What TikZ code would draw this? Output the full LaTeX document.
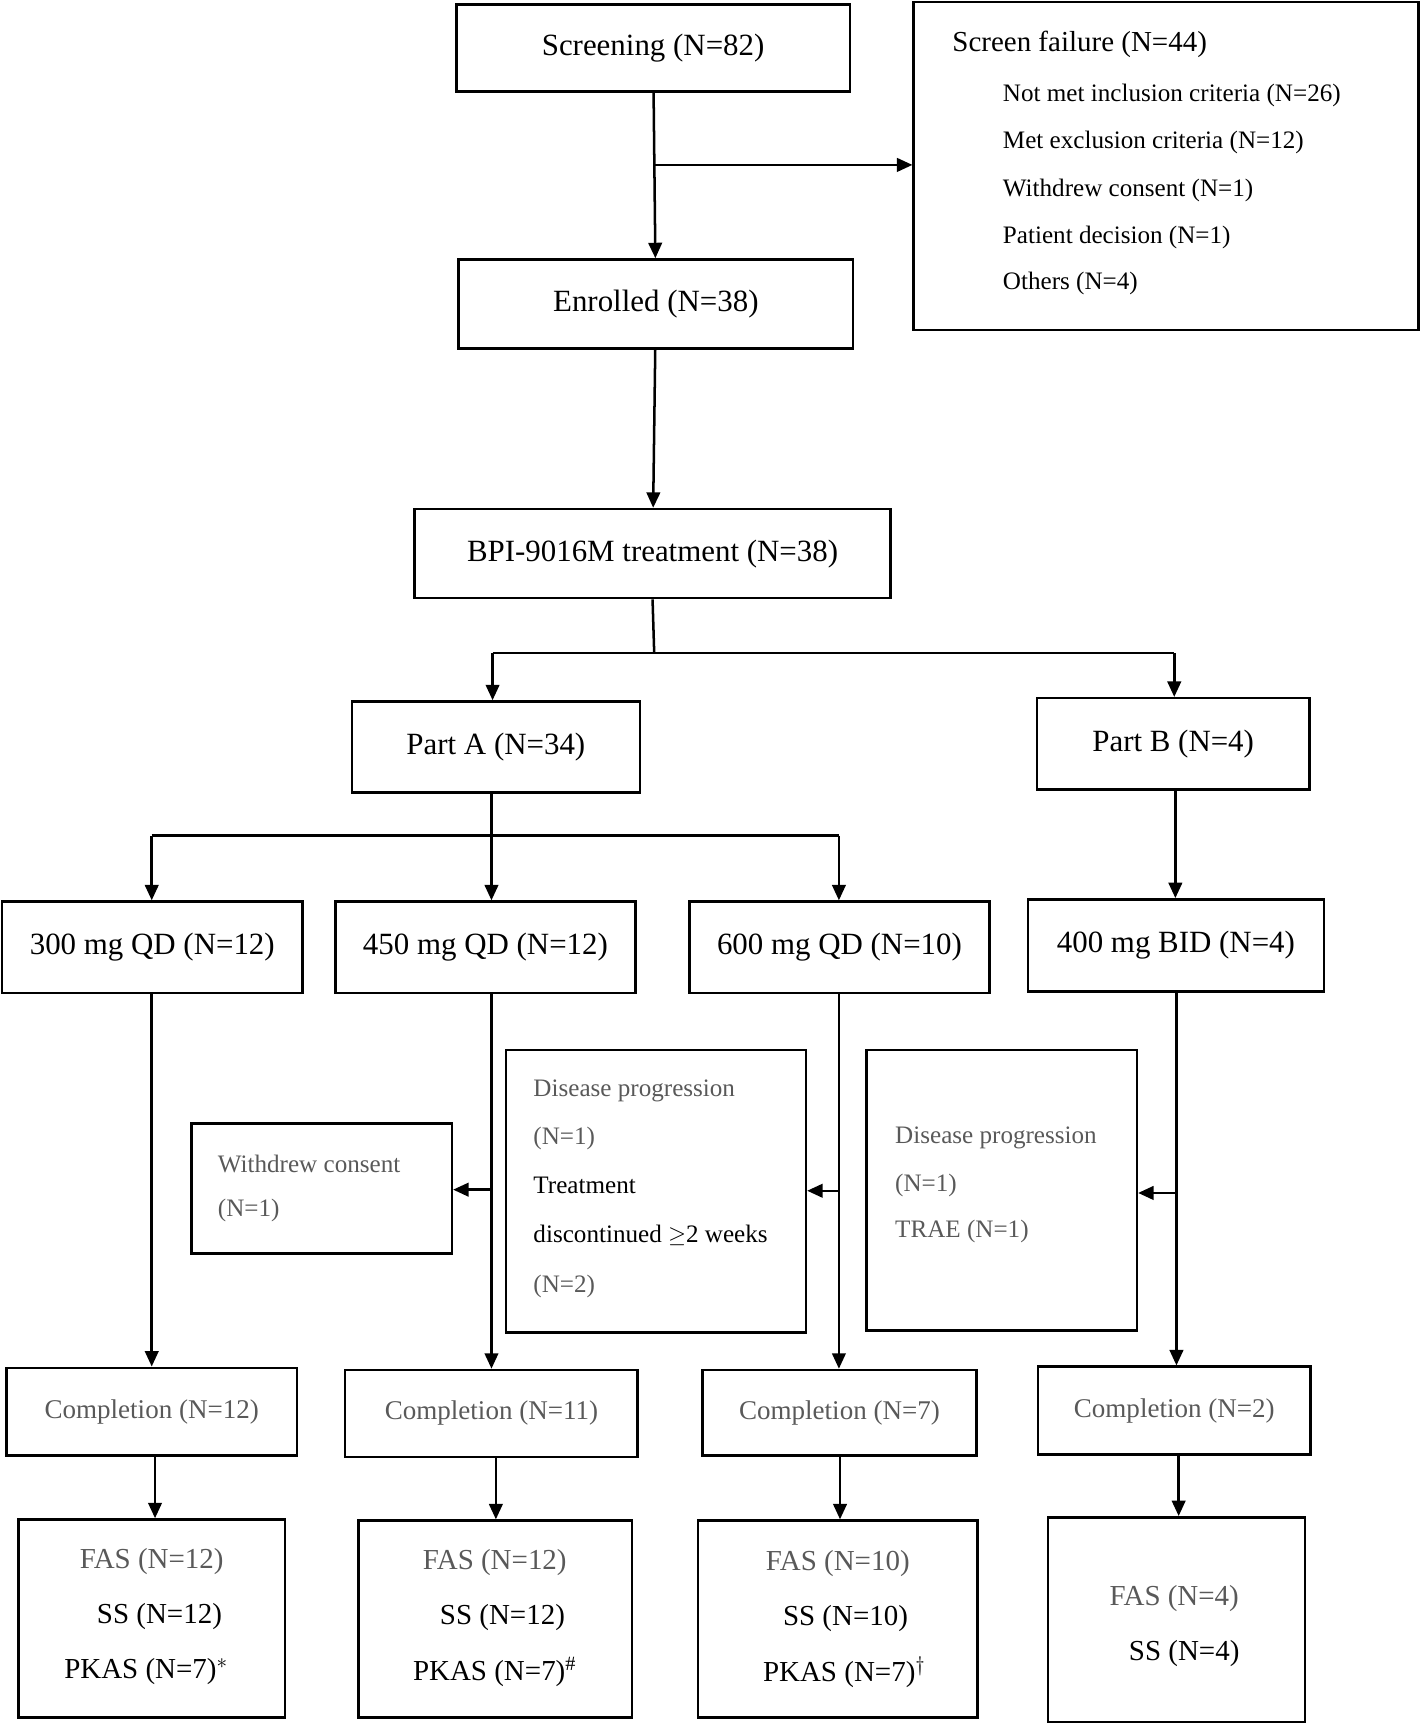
\documentclass[tikz,border=0pt]{standalone}
\usepackage{fontspec}
\setmainfont{Liberation Serif}
\usepackage{amssymb}
\usetikzlibrary{arrows.meta}
\definecolor{gt}{gray}{0.35}
\begin{document}
\begin{tikzpicture}[x=0.02cm,y=-0.02cm,
  box/.style={draw,line width=1.3pt,inner sep=0pt},
  arr/.style={-{Triangle[length=8pt,width=7pt]},line width=1.3pt},
  ln/.style={line width=1.3pt},
  big/.style={font=\fontsize{16}{18}\selectfont},
  mid/.style={font=\fontsize{14}{16}\selectfont},
  sm/.style={font=\fontsize{13}{15}\selectfont,anchor=west},
  grey/.style={text=gt}]
\useasboundingbox (0,0) rectangle (1292,1568);
\newcommand\bx[7]{\pgfmathsetmacro\w{(#4-#2)*0.02}\pgfmathsetmacro\h{(#5-#3)*0.02}%
\node[box,#7,minimum width=\w cm,minimum height=\h cm] (#1) at ({(#2+#4)/2},{(#3+#5)/2}) {#6};}
\bx{scr}{415}{4}{773}{83}{Screening (N=82)}{big}
\bx{sf}{831}{2}{1290}{300}{}{}
\node[sm,font=\fontsize{15}{17}\selectfont] at (860,40) {Screen failure (N=44)};
\node[sm] at (906,87) {Not met inclusion criteria (N=26)};
\node[sm] at (906,130) {Met exclusion criteria (N=12)};
\node[sm] at (906,173) {Withdrew consent (N=1)};
\node[sm] at (906,216) {Patient decision (N=1)};
\node[sm] at (906,258) {Others (N=4)};
\bx{enr}{417}{236}{776}{317}{Enrolled (N=38)}{big}
\bx{bpi}{377}{463}{810}{544}{BPI-9016M treatment (N=38)}{big}
\bx{pa}{320}{638}{582}{721}{Part A (N=34)}{big}
\bx{pb}{943}{635}{1191}{718}{Part B (N=4)}{big}
\bx{d1}{2}{820}{275}{903}{300 mg QD (N=12)}{big}
\bx{d2}{305}{820}{578}{903}{450 mg QD (N=12)}{big}
\bx{d3}{627}{820}{900}{903}{600 mg QD (N=10)}{big}
\bx{d4}{935}{818}{1204}{902}{400 mg BID (N=4)}{big}
\bx{wc}{174}{1022}{411}{1140}{}{}
\node[sm,grey] at (192,1059) {Withdrew consent};
\node[sm,grey] at (192,1101) {(N=1)};
\bx{dp1}{460}{955}{733}{1212}{}{}
\node[sm,grey] at (479,992) {Disease progression};
\node[sm,grey] at (479,1035) {(N=1)};
\node[sm] at (479,1078) {Treatment};
\node[sm] at (479,1124) {discontinued $\geq$2 weeks};
\node[sm,grey] at (479,1170) {(N=2)};
\bx{dp2}{788}{955}{1034}{1210}{}{}
\node[sm,grey] at (808,1035) {Disease progression};
\node[sm,grey] at (808,1078) {(N=1)};
\node[sm,grey] at (808,1120) {TRAE (N=1)};
\bx{c1}{6}{1244}{270}{1324}{Completion (N=12)}{mid,grey}
\bx{c2}{314}{1246}{580}{1325}{Completion (N=11)}{mid,grey}
\bx{c3}{639}{1246}{888}{1324}{Completion (N=7)}{mid,grey}
\bx{c4}{944}{1243}{1192}{1323}{Completion (N=2)}{mid,grey}
\bx{f1}{17}{1382}{259}{1562}{}{}
\bx{f2}{326}{1383}{575}{1562}{}{}
\bx{f3}{635}{1383}{889}{1562}{}{}
\bx{f4}{953}{1380}{1187}{1566}{}{}
\begin{scope}[every node/.style={font=\fontsize{15}{17}\selectfont}]
\node[grey] at (138,1420) {FAS (N=12)};
\node at (145,1470) {SS (N=12)};
\node at (133,1520) {PKAS (N=7)$^{*}$};
\node[grey] at (450,1421) {FAS (N=12)};
\node at (457,1471) {SS (N=12)};
\node at (450,1521) {PKAS (N=7)$^{\#}$};
\node[grey] at (762,1422) {FAS (N=10)};
\node at (769,1472) {SS (N=10)};
\node at (768,1521) {PKAS (N=7)$^{\dagger}$};
\node[grey] at (1068,1454) {FAS (N=4)};
\node at (1077,1504) {SS (N=4)};
\end{scope}
% connectors
\draw[arr] (scr) -- (enr);
\coordinate (b1) at (595,150);
\draw[arr] (b1) -- (sf.west|-b1);
\draw[arr] (enr) -- (bpi);
\coordinate (j1) at (595,594);
\coordinate (j1a) at (448,594);
\coordinate (j1b) at (1068,594);
\draw[ln] (bpi.south|-bpi.south) -- (j1);
\draw[ln] (j1a) -- (j1b);
\draw[arr] (j1a) -- (j1a|-pa.north);
\draw[arr] (j1b) -- (j1b|-pb.north);
\coordinate (j2) at (447,760);
\coordinate (j2a) at (138,760);
\coordinate (j2b) at (763,760);
\draw[ln] (pa.south-|j2) -- (j2);
\draw[ln] (j2a) -- (j2b);
\draw[arr] (j2a) -- (j2a|-d1.north);
\draw[arr] (j2) -- (j2|-d2.north);
\draw[arr] (j2b) -- (j2b|-d3.north);
\draw[arr] (pb.south-|1069,0) -- (d4.north-|1069,0);
\draw[arr] (d1.south-|138,0) -- (c1.north-|138,0);
\draw[arr] (d2.south-|447,0) -- (c2.north-|447,0);
\draw[arr] (d3.south-|763,0) -- (c3.north-|763,0);
\draw[arr] (d4.south-|1070,0) -- (c4.north-|1070,0);
\coordinate (s1) at (447,1082);
\coordinate (s2) at (763,1083);
\coordinate (s3) at (1070,1085);
\draw[arr] (s1) -- (wc.east|-s1);
\draw[arr] (s2) -- (dp1.east|-s2);
\draw[arr] (s3) -- (dp2.east|-s3);
\draw[arr] (c1.south-|141,0) -- (f1.north-|141,0);
\draw[arr] (c2.south-|451,0) -- (f2.north-|451,0);
\draw[arr] (c3.south-|764,0) -- (f3.north-|764,0);
\draw[arr] (c4.south-|1072,0) -- (f4.north-|1072,0);
\end{tikzpicture}
\end{document}
